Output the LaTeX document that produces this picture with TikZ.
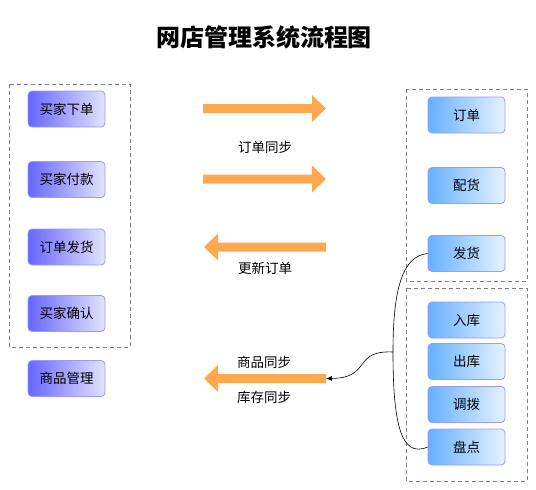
\documentclass[tikz,border=0pt]{standalone}
\usepackage{fontspec}
\newfontfamily\cjk{Noto Sans CJK SC}
\usepackage{tikz}
\usetikzlibrary{arrows.meta}

\definecolor{bluL}{HTML}{6666FF}
\definecolor{bluR}{HTML}{E4E4FF}
\definecolor{skyL}{HTML}{66B0FF}
\definecolor{skyR}{HTML}{E6F2FF}
\definecolor{edge}{HTML}{9999FF}
\definecolor{orangeArr}{HTML}{FFA84F}

\tikzset{
    box/.style={draw=edge, line width=0.8pt, rounded corners=4pt, shading=axis,
        shading angle=90, minimum width=77pt, minimum height=36pt, inner sep=0pt,
        font=\cjk\fontsize{13.5}{15}\selectfont},
    buyer/.style={box, left color=bluL, right color=bluR},
    shop/.style={box, left color=skyL, right color=skyR},
    group/.style={draw=gray, line width=0.7pt, dash pattern=on 4pt off 3pt},
    note/.style={font=\cjk\fontsize{13.5}{15}\selectfont}
}

\begin{document}
\begin{tikzpicture}[x=1pt, y=-1pt]
            \useasboundingbox (0, 0) rectangle (536, 490);
            \node[font=\cjk\bfseries\fontsize{24}{27}\selectfont] (title) at (264, 37) {网店管理系统流程图};

            % buyer side
            \draw[group] (9, 84) rectangle (130, 347);
            \node[buyer] (order) at (66.5, 109) {买家下单};
            \node[buyer] (pay) at (66.5, 179.5) {买家付款};
            \node[buyer] (ship) at (66.5, 247) {订单发货};
            \node[buyer] (confirm) at (66.5, 313.5) {买家确认};
            \node[buyer] (goods) at (66.5, 378.5) {商品管理};

            % shop side
            \draw[group] (406, 89) rectangle (527, 281);
            \draw[group] (406, 288) rectangle (527, 481);
            \node[shop] (rorder) at (466.5, 115) {订单};
            \node[shop] (rpick) at (466.5, 185.5) {配货};
            \node[shop] (rship) at (466.5, 253.5) {发货};
            \node[shop] (rin) at (466.5, 320) {入库};
            \node[shop] (rout) at (466.5, 361.5) {出库};
            \node[shop] (rmove) at (466.5, 404.5) {调拨};
            \node[shop] (rcount) at (466.5, 447) {盘点};

            % big arrows
            \fill[orangeArr] (203, 104) -- (312, 104) -- (312, 95) -- (326, 108.5) -- (312, 122) -- (312, 113) -- (203, 113) -- cycle;
            \fill[orangeArr] (203, 174.5) -- (312, 174.5) -- (312, 165.5) -- (326, 179) -- (312, 192.5) -- (312, 183.5) -- (203, 183.5) -- cycle;
            \fill[orangeArr] (326, 242.5) -- (218, 242.5) -- (218, 233.5) -- (204, 247) -- (218, 260.5) -- (218, 251.5) -- (326, 251.5) -- cycle;
            \fill[orangeArr] (326, 374) -- (218, 374) -- (218, 365) -- (204, 378.5) -- (218, 392) -- (218, 383) -- (326, 383) -- cycle;
            \coordinate (sync) at (326, 378.5);

            \node[note] (l1) at (265, 147) {订单同步};
            \node[note] (l2) at (265, 268) {更新订单};
            \node[note] (l3) at (264, 362) {商品同步};
            \node[note] (l4) at (264, 397) {库存同步};

            % brace from shop boxes to arrow
            \coordinate (fork) at (393, 352);
            \draw[line width=0.6pt] (rship.west) .. controls (402, 256) and (393, 290) .. (fork)
                .. controls (393, 420) and (400, 459) .. (rcount.west);
            \draw[line width=0.6pt, -{Latex[length=6pt, width=5pt]}] (fork) .. controls (352, 350) and (372, 378) .. (sync);
        \end{tikzpicture}
\end{document}
